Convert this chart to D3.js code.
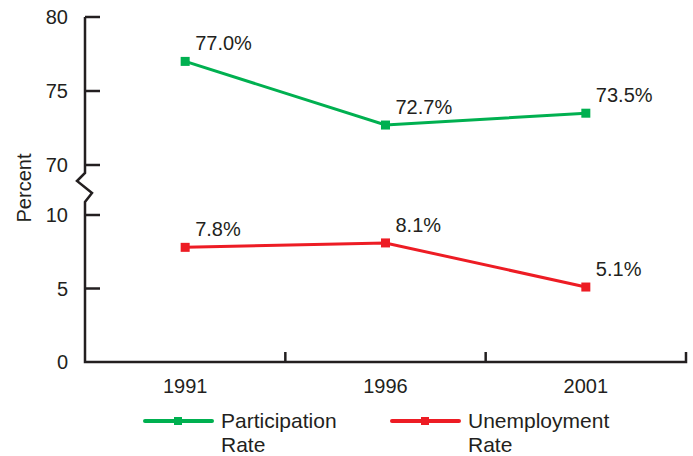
<!DOCTYPE html>
<meta charset="utf-8">
<script src="https://d3js.org/d3.v7.min.js"></script>
<style>
  body { margin: 0; background: #fff; }
  text { font-family: "Liberation Sans", Arial, sans-serif; fill: #231f20; }
</style>
<div id="chart"></div>
<script>
  // data
  const years = ["1991", "1996", "2001"];
  const participation = [77.0, 72.7, 73.5];
  const unemployment = [7.8, 8.1, 5.1];
  const topTicks = [70, 75, 80];
  const bottomTicks = [0, 5, 10];

  const W = 693, H = 456;
  const axisX = 85, axisRight = 686;
  const ink = "#231f20";
  const green = "#00b050", red = "#ed1c24";

  const svg = d3.select("#chart").append("svg")
    .attr("width", W).attr("height", H);

  const x = d3.scaleBand().domain(years).range([axisX, axisRight]);
  const yTop = d3.scaleLinear().domain([70, 80]).range([165, 17]);
  const yBot = d3.scaleLinear().domain([0, 10]).range([362, 215]);

  // y axis line with break, plus x axis
  const ax = svg.append("g").attr("stroke", ink).attr("stroke-width", 2.5).attr("fill", "none");
  ax.append("path").attr("d", d3.line()([
    [axisX, yTop(80)], [axisX, 173], [77, 181], [92, 193], [axisX, 202], [axisX, yBot(0)], [axisRight, yBot(0)], [axisRight, yBot(0) - 10]
  ])).attr("stroke-linejoin", "miter");

  // y ticks
  [[yTop, topTicks], [yBot, bottomTicks]].forEach(([sc, ticks]) => {
    ticks.forEach(t => {
      if (sc(t) !== yBot(0)) {
        svg.append("line").attr("x1", axisX).attr("x2", axisX + 15)
          .attr("y1", sc(t)).attr("y2", sc(t))
          .attr("stroke", ink).attr("stroke-width", 2.5);
      }
      svg.append("text").attr("x", 68).attr("y", sc(t)).attr("dy", "0.35em")
        .attr("text-anchor", "end").style("font-size", "20px").text(t);
    });
  });

  // x ticks at band boundaries
  years.slice(1).forEach(yr => {
    svg.append("line").attr("x1", x(yr)).attr("x2", x(yr))
      .attr("y1", yBot(0)).attr("y2", yBot(0) - 10)
      .attr("stroke", ink).attr("stroke-width", 2.5);
  });
  years.forEach(yr => {
    svg.append("text").attr("x", x(yr) + x.bandwidth() / 2).attr("y", 393)
      .attr("text-anchor", "middle").style("font-size", "20px").text(yr);
  });

  svg.append("text").attr("transform", "translate(31,188) rotate(-90)")
    .attr("text-anchor", "middle").style("font-size", "20px").text("Percent");

  function series(values, sc, color) {
    const pts = values.map((v, i) => [x(years[i]) + x.bandwidth() / 2, sc(v)]);
    svg.append("path").attr("d", d3.line()(pts))
      .attr("fill", "none").attr("stroke", color).attr("stroke-width", 3);
    pts.forEach((p, i) => {
      svg.append("rect").attr("x", p[0] - 4.5).attr("y", p[1] - 4.5)
        .attr("width", 9).attr("height", 9).attr("fill", color);
      svg.append("text").attr("x", p[0] + 10).attr("y", p[1] - 11)
        .style("font-size", "20px").text(values[i].toFixed(1) + "%");
    });
  }
  series(participation, yTop, green);
  series(unemployment, yBot, red);

  // legend
  const legend = [
    { x: 145, color: green, lines: ["Participation", "Rate"] },
    { x: 392, color: red, lines: ["Unemployment", "Rate"] }
  ];
  legend.forEach(l => {
    svg.append("line").attr("x1", l.x).attr("x2", l.x + 67).attr("y1", 421).attr("y2", 421)
      .attr("stroke", l.color).attr("stroke-width", 4).attr("stroke-linecap", "round");
    svg.append("rect").attr("x", l.x + 29).attr("y", 417).attr("width", 8).attr("height", 8).attr("fill", l.color);
    l.lines.forEach((t, i) => {
      svg.append("text").attr("x", l.x + 76).attr("y", 428 + i * 24)
        .style("font-size", "21px").text(t);
    });
  });
</script>
